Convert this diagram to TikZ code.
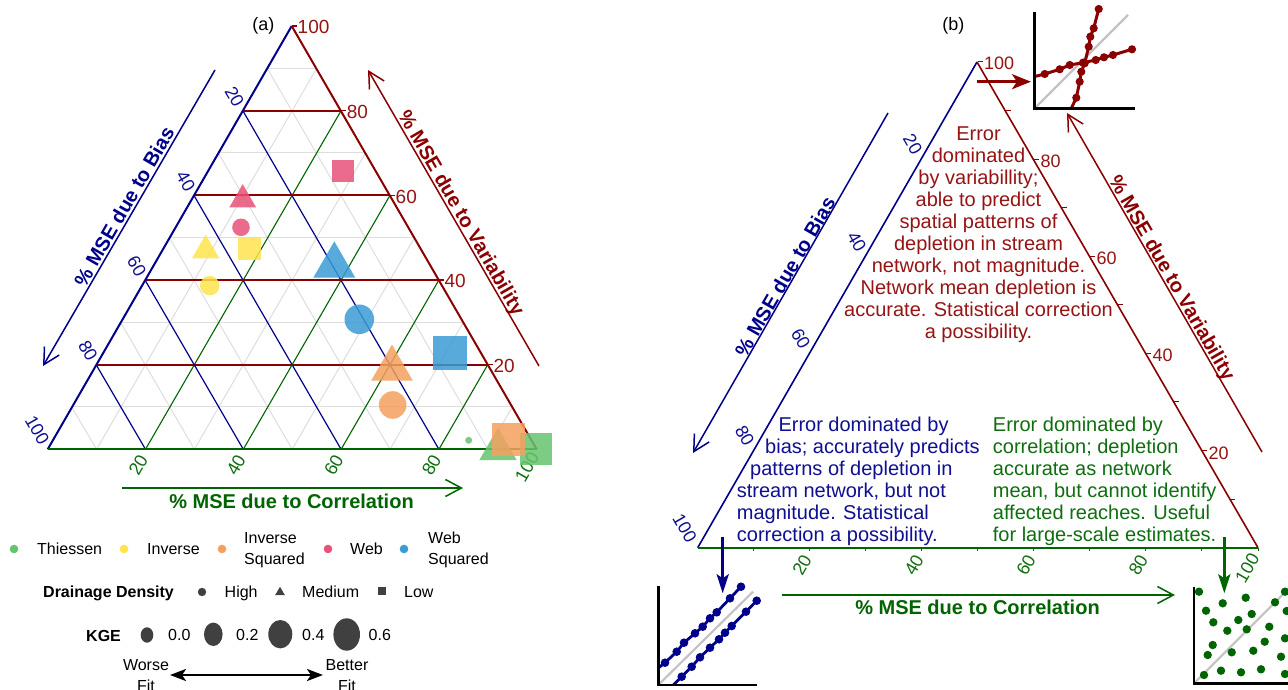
\documentclass[tikz,border=0pt]{standalone}
\usepackage{fontspec}
\setmainfont{Liberation Sans}
\usetikzlibrary{arrows.meta}
\definecolor{dred}{RGB}{139,0,0}
\definecolor{dblue}{RGB}{0,0,139}
\definecolor{dgreen}{RGB}{0,100,0}
\definecolor{tred}{RGB}{150,20,20}
\definecolor{tblue}{RGB}{15,15,145}
\definecolor{tgreen}{RGB}{15,110,15}
\definecolor{gridgray}{RGB}{222,222,222}
\definecolor{diaggray}{RGB}{195,195,195}
\definecolor{cthi}{RGB}{102,196,110}
\definecolor{cinv}{RGB}{255,228,77}
\definecolor{cinvsq}{RGB}{245,160,96}
\definecolor{cweb}{RGB}{232,82,120}
\definecolor{cwebsq}{RGB}{58,156,212}
\definecolor{keygray}{RGB}{64,64,64}
\newcommand{\mktri}[4]{\fill[#1,opacity=0.85] ({#2-#4/2},#3) -- ({#2+#4/2},#3) -- (#2,{#3-0.866*#4}) -- cycle;}
\newcommand{\mksq}[4]{\fill[#1,opacity=0.85] ({#2-#4/2},{#3-#4/2}) rectangle ({#2+#4/2},{#3+#4/2});}
\newcommand{\mkcirc}[4]{\fill[#1,opacity=0.85] (#2,#3) circle (#4);}
\tikzset{
  f16/.style={font=\fontsize{16}{21}\selectfont, inner sep=0pt, text height=11.5pt, text depth=0pt},
  f16b/.style={font=\fontsize{16}{21}\selectfont\bfseries, inner sep=0pt, text height=11.5pt, text depth=0pt},
  f18/.style={font=\fontsize{18}{21}\selectfont, inner sep=0pt, text height=12.9pt, text depth=0pt},
  f19/.style={font=\fontsize{19}{22}\selectfont, inner sep=0pt, text height=13.6pt, text depth=0pt},
  f20b/.style={font=\fontsize{20}{22}\selectfont\bfseries, inner sep=0pt, text height=14.3pt, text depth=0pt},
  blk20/.style={font=\fontsize{20}{22}\selectfont, inner sep=0pt},
  blk16/.style={font=\fontsize{16}{21}\selectfont, inner sep=0pt},
  axline/.style={line width=1.5pt},
  barb/.style={-{Straight Barb[length=16pt,width=17pt]}},
  barbstart/.style={{Straight Barb[length=16pt,width=17pt]}-},
  insetax/.style={line width=2.7pt, black},
  insetarrow/.style={line width=3pt, -{Stealth[length=19pt,width=15pt,inset=5pt]}},
}
\begin{document}
\begin{tikzpicture}[x=1pt,y=-1pt]
\useasboundingbox (0,0) rectangle (1288,690);
\fill[white] (0,0) rectangle (1288,690);

% ================= PANEL (a) =================
\coordinate (aT) at (291.7,26);
\coordinate (aBL) at (47.7,449.3);
\coordinate (aBR) at (536.7,449.3);
% minor grid
\foreach \k in {10,30,50,70,90} {
  \draw[gridgray, line width=1pt] ({47.7+\k*2.445},{449.3-\k*4.233}) -- ({536.7-\k*2.445},{449.3-\k*4.233});
  \draw[gridgray, line width=1pt] ({291.7-\k*2.445},{26+\k*4.233}) -- ({47.7+(100-\k)*4.89},449.3);
  \draw[gridgray, line width=1pt] ({47.7+\k*4.89},449.3) -- ({536.7-(100-\k)*2.445},{449.3-(100-\k)*4.233});
}
% major grid
\foreach \k in {20,40,60,80} {
  \draw[dblue, line width=1.2pt] ({291.7-\k*2.445},{26+\k*4.233}) -- ({47.7+(100-\k)*4.89},449.3);
  \draw[dgreen, line width=1.1pt] ({47.7+\k*4.89},449.3) -- ({536.7-(100-\k)*2.445},{449.3-(100-\k)*4.233});
  \draw[dred, line width=2pt] ({47.7+\k*2.445},{449.3-\k*4.233}) -- ({536.7-\k*2.445},{449.3-\k*4.233});
}
% edges
\draw[dblue, line width=2pt] (aT) -- (aBL);
\draw[dgreen, line width=2.2pt] (aBL) -- (aBR);
\draw[dred, line width=2pt] (aBR) -- (aT);
\foreach \k in {20,40,60,80,100} {
  \draw[dred, line width=1.2pt] ({536.7-\k*2.445},{449.3-\k*4.233}) -- ++(5,0);
}
% tick labels
\foreach \k in {20,40,60,80} {
  \node[f18, text=tblue, rotate=-60] (aL\k) at ({291.7-\k*2.445-8},{26+\k*4.233-14}) {\k};
  \node[f18, text=tgreen, rotate=60] (aB\k) at ({47.7+\k*4.89-7.5},465) {\k};
  \node[f19, text=tred, anchor=west] (aR\k) at ({536.7-\k*2.445+5.5},{449.3-\k*4.233+1}) {\k};
}
\node[f18, text=tblue, rotate=-60] (aL100) at (37.5,430) {100};
\node[f18, text=tgreen, rotate=60] (aB100) at (526.7,467) {100};
\node[f19, text=tred, anchor=west] (aR100) at (297.5,27) {100};
% markers
\mktri{cthi}{498}{460}{37.3}
\mksq{cthi}{535.8}{449.2}{31.7}
\mkcirc{cthi}{468.7}{440.3}{3.5}
\mksq{cinvsq}{508.3}{439.7}{33}
\mktri{cinvsq}{392}{380.7}{41.7}
\mkcirc{cinvsq}{392.7}{405}{13.8}
\mktri{cwebsq}{334.3}{277.7}{42}
\mkcirc{cwebsq}{359.3}{319.3}{14.8}
\mksq{cwebsq}{450.2}{353}{33.7}
\mktri{cinv}{205.7}{258.3}{27.3}
\mksq{cinv}{249}{248.7}{23}
\mkcirc{cinv}{209.7}{285.7}{9.7}
\mktri{cweb}{242.7}{207.3}{26.7}
\mkcirc{cweb}{241}{227.3}{8.8}
\mksq{cweb}{343.3}{171}{22}
% axis titles
\coordinate (aBiasS) at (215,70);
\coordinate (aBiasE) at (43,366);
\draw[dblue, axline, barb] (aBiasS) -- (aBiasE);
\node[f20b, text=dblue, rotate=60] (aBiasT) at (124.1,206.5) {\% MSE due to Bias};
\coordinate (aVarS) at (368,70);
\coordinate (aVarE) at (539,366);
\draw[dred, axline, barbstart] (aVarS) -- (aVarE);
\node[f20b, text=dred, rotate=-60] (aVarT) at (462,212.5) {\% MSE due to Variability};
\coordinate (aCorS) at (122,488);
\coordinate (aCorE) at (463,488);
\draw[dgreen, axline, barb] (aCorS) -- (aCorE);
\node[f20b, text=dgreen] (aCorT) at (291.5,501.5) {\% MSE due to Correlation};
\node[f18] (alab) at (263.3,24.5) {(a)};

% legend
\fill[cthi] (14,549) circle (4.3);
\node[f16, anchor=west] (lg1) at (37,549) {Thiessen};
\fill[cinv] (124,549) circle (4.3);
\node[f16, anchor=west] (lg2) at (147,549) {Inverse};
\fill[cinvsq] (222,549) circle (4.3);
\node[blk16, anchor=west, align=left] (lg3) at (244,550) {Inverse\\Squared};
\fill[cweb] (328,549) circle (4.3);
\node[f16, anchor=west] (lg4) at (350,549) {Web};
\fill[cwebsq] (404,549) circle (4.3);
\node[blk16, anchor=west, align=left] (lg5) at (428,550) {Web\\Squared};

\node[f16b, anchor=west] (dd) at (43,592) {Drainage Density};
\fill[keygray] (202,592) circle (4.2);
\node[f16, anchor=west] (ddh) at (224.5,592) {High};
\fill[keygray] (275.2,595) -- (284.8,595) -- (280,586.8) -- cycle;
\node[f16, anchor=west] (ddm) at (302,592) {Medium};
\fill[keygray] (378.3,587.3) rectangle (386,595);
\node[f16, anchor=west] (ddl) at (404,592) {Low};

\node[f16b, anchor=west] (kge) at (86,635.5) {KGE};
\fill[keygray] (147,635) ellipse [x radius=6.3, y radius=7.7];
\node[f16, anchor=west] (k0) at (168,635) {0.0};
\fill[keygray] (213.3,634.3) ellipse [x radius=9.3, y radius=11.7];
\node[f16, anchor=west] (k2) at (236,635) {0.2};
\fill[keygray] (280.3,634.2) ellipse [x radius=12, y radius=14.2];
\node[f16, anchor=west] (k4) at (302,635) {0.4};
\fill[keygray] (346.7,634.5) ellipse [x radius=13.3, y radius=16.2];
\node[f16, anchor=west] (k6) at (368.5,635) {0.6};

\node[blk16, align=center] (worse) at (146,675.5) {Worse\\Fit};
\node[blk16, align=center] (better) at (347,675.5) {Better\\Fit};
\coordinate (fitL) at (170,675);
\coordinate (fitR) at (323,675);
\draw[line width=2.5pt, {Stealth[length=16pt,width=12pt,inset=4pt]}-{Stealth[length=16pt,width=12pt,inset=4pt]}] (fitL) -- (fitR);

% ================= PANEL (b) =================
\coordinate (bT) at (977,62);
\coordinate (bBL) at (697.7,547.7);
\coordinate (bBR) at (1258,547.7);
\draw[dblue, line width=1.6pt] (bT) -- (bBL);
\draw[dgreen, line width=1.8pt] (bBL) -- (bBR);
\draw[dred, line width=1.6pt] (bBR) -- (bT);
\foreach \k in {10,20,...,100} {
  \draw[dred, line width=1pt] ({1258-\k*2.8015},{547.7-\k*4.857}) -- ++(5,0);
  \draw[dgreen, line width=1pt] ({697.7+\k*5.603},547.7) -- ++(0,3);
}
\foreach \k in {20,40,60,80} {
  \node[f18, text=tblue, rotate=-60] (bL\k) at ({977-\k*2.8015-8},{62+\k*4.857-14.8}) {\k};
  \node[f18, text=tgreen, rotate=60] (bB\k) at ({697.7+\k*5.603-8},565) {\k};
  \node[f18, text=tred, anchor=west] (bR\k) at ({1258-\k*2.8015+6.5},{547.7-\k*4.857+2}) {\k};
}
\node[f18, text=tblue, rotate=-60] (bL100) at (685,528) {100};
\node[f18, text=tgreen, rotate=60] (bB100) at (1247,568) {100};
\node[f18, text=tred, anchor=west] (bR100) at (984,63) {100};
% axis titles
\coordinate (bBiasS) at (888,113);
\coordinate (bBiasE) at (693,453);
\draw[dblue, axline, barb] (bBiasS) -- (bBiasE);
\node[f20b, text=dblue, rotate=60] (bBiasT) at (785,276.5) {\% MSE due to Bias};
\coordinate (bVarS) at (1067,113);
\coordinate (bVarE) at (1262,452);
\draw[dred, axline, barbstart] (bVarS) -- (bVarE);
\node[f20b, text=dred, rotate=-60] (bVarT) at (1172.5,277.5) {\% MSE due to Variability};
\coordinate (bCorS) at (782,595);
\coordinate (bCorE) at (1175,595);
\draw[dgreen, axline, barb] (bCorS) -- (bCorE);
\node[f20b, text=dgreen] (bCorT) at (977.5,607.5) {\% MSE due to Correlation};
\node[f18] (blab) at (953.3,24.5) {(b)};

% descriptive texts
\node[blk20, text=tred, align=center] (vtxt) at (978.5,235) {Error\\dominated\\by variabillity;\\able to predict\\spatial patterns of\\depletion in stream\\network, not magnitude.\\Network mean depletion is\\accurate. Statistical correction\\a possibility.};
\node[blk20, text=tblue, align=left, anchor=west] (btxt) at (736.7,481.3) {\hspace*{41.6pt}Error dominated by\\\hspace*{28.3pt}bias; accurately predicts\\\hspace*{13.3pt}patterns of depletion in\\stream network, but not\\magnitude. Statistical\\correction a possibility.};
\node[blk20, text=tgreen, align=left, anchor=west] (ctxt) at (992.7,481) {Error dominated by\\correlation; depletion\\accurate as network\\mean, but cannot identify\\affected reaches. Useful\\for large-scale estimates.};

% top inset (variability)
\draw[diaggray, line width=2.2pt] (1034.7,108.3) -- (1128,15);
\draw[dred, line width=3pt] plot coordinates {(1071.3,108.3) (1076.3,97.7) (1079.7,81.7) (1081.3,71.7) (1084.7,63.3) (1088.7,46.7) (1090.3,36.7) (1093.7,28.3) (1098.7,9)};
\draw[dred, line width=3pt] plot coordinates {(1034.7,76.5) (1044.7,74) (1059.7,69.3) (1069.7,65) (1083,62.7) (1095.7,60) (1104,57.3) (1113,55) (1132,49.3)};
\foreach \p in {(1076.3,97.7),(1079.7,81.7),(1081.3,71.7),(1084.7,63.3),(1088.7,46.7),(1090.3,36.7),(1093.7,28.3),(1098.7,9),(1044.7,74),(1059.7,69.3),(1069.7,65),(1083,62.7),(1095.7,60),(1104,57.3),(1113,55),(1132,49.3)}
  \fill[dred] \p circle (4.1);
\draw[insetax] (1034.7,11.7) -- (1034.7,108.3) -- (1134.7,108.3);
\coordinate (vArrS) at (976.7,81.7);
\coordinate (vArrE) at (1031,81.7);
\draw[dred, insetarrow] (vArrS) -- (vArrE);

% bottom-left inset (bias)
\draw[diaggray, line width=2.2pt] (658.3,685) -- (753,591.7);
\draw[dblue, line width=2.8pt] plot coordinates {(658.3,668) (665,662.7) (676.7,651.7) (684,642.7) (695,633.3) (702.7,626.7) (710,618.3) (716.7,612.3) (730,598.3) (741,586.7)};
\draw[dblue, line width=2.8pt] plot coordinates {(673.3,685) (681.7,676.7) (691.7,666.7) (700,657.3) (710,647.7) (719,639.3) (725,632.7) (731.7,626) (746,611.7) (756.7,600.7)};
\foreach \p in {(665,662.7),(676.7,651.7),(684,642.7),(695,633.3),(702.7,626.7),(710,618.3),(716.7,612.3),(730,598.3),(741,586.7),(681.7,676.7),(691.7,666.7),(700,657.3),(710,647.7),(719,639.3),(725,632.7),(731.7,626),(746,611.7),(756.7,600.7)}
  \fill[dblue] \p circle (4.3);
\draw[insetax] (658.3,586) -- (658.3,685) -- (756.7,685);
\coordinate (bArrS) at (722.7,536.7);
\coordinate (bArrE) at (722.7,593.3);
\draw[dblue, line width=3pt, -{Stealth[length=19pt,width=12pt,inset=4pt]}] (bArrS) -- (bArrE);

% bottom-right inset (correlation)
\draw[diaggray, line width=2.2pt] (1194,683.3) -- (1290,587.3);
\foreach \p in {(1199,591.7),(1222.7,603.3),(1245.7,597.7),(1285,591.7),(1206,610.7),(1275,602.3),(1286.7,611),(1213.3,622.3),(1238.3,620),(1251.7,614),(1227.3,630.7),(1246.7,629.3),(1269.3,626.7),(1285,638.3),(1212.7,645),(1264.7,641.7),(1207.7,655),(1231.7,652.3),(1253.3,650.7),(1281,656.7),(1204,675),(1221,670.7),(1241,672.3),(1261,669.3),(1285,674)}
  \fill[dgreen] \p circle (4.2);
\draw[insetax] (1194,586.7) -- (1194,683.3) -- (1292,683.3);
\coordinate (cArrS) at (1224.3,536.7);
\coordinate (cArrE) at (1224.3,593.3);
\draw[dgreen, line width=3pt, -{Stealth[length=19pt,width=12pt,inset=4pt]}] (cArrS) -- (cArrE);
\end{tikzpicture}
\end{document}
